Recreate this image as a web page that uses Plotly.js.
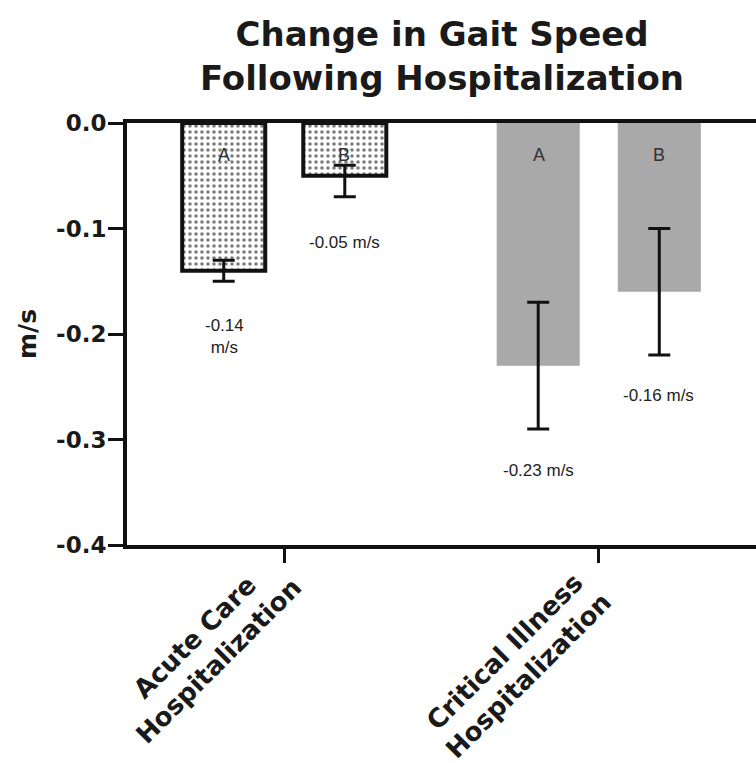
<!DOCTYPE html>
<html>
<head>
<meta charset="utf-8">
<script src="https://cdn.plot.ly/plotly-3.0.1.min.js"></script>
<style>html,body{margin:0;padding:0;background:#fff;}#chart{width:756px;height:763px;}</style>
</head>
<body>
<div id="chart"></div>
<script>
// ---- data ----
const categories = ["Acute Care<br>Hospitalization", "Critical Illness<br>Hospitalization"];
const groupNames = ["A", "B"];
const valuesA = [-0.14, -0.23];
const valuesB = [-0.05, -0.16];
const errPlusA = [0.01, 0.06];
const errMinusA = [0.01, 0.06];
const errPlusB = [0.01, 0.06];
const errMinusB = [0.02, 0.06];
const labelsA = ["-0.14<br>m/s", "-0.23 m/s"];
const labelsB = ["-0.05 m/s", "-0.16 m/s"];
const labelPosA = [-0.202, -0.329];
const labelPosB = [-0.113, -0.258];
const yTicks = [0, -0.1, -0.2, -0.3, -0.4];
const yTickText = ["0.0", "-0.1", "-0.2", "-0.3", "-0.4"];
const chartTitle = "Change in Gait Speed<br>Following Hospitalization";

// ---- styles ----
const bold = "DejaVu Sans, Liberation Sans, Arial, sans-serif";
const plain = "Liberation Sans, Arial, sans-serif";
const tickLabelShiftX = [26, 21];
const tickLabelShiftY = [0, -15];
const barMarker = {
  color: ["#ffffff", "#a9a9a9"],
  line: {color: "#111111", width: [4, 0]},
  pattern: {
    fillmode: "overlay",
    shape: [".", ""],
    fgopacity: 0.7,
    size: [6, 6],
    solidity: [0.28, 0.28]
  }
};
const errStyle = {color: "#111111", thickness: 3, width: 11};

const traces = [
  {type: "bar", name: groupNames[0], x: categories, y: valuesA, marker: barMarker,
   error_y: Object.assign({type: "data", symmetric: false, array: errPlusA, arrayminus: errMinusA}, errStyle),
   hoverinfo: "skip"},
  {type: "bar", name: groupNames[1], x: categories, y: valuesB, marker: barMarker,
   error_y: Object.assign({type: "data", symmetric: false, array: errPlusB, arrayminus: errMinusB}, errStyle),
   hoverinfo: "skip"}
];

const shift = 60;
const annotations = [{
  xref: "paper", yref: "paper", x: 0.500, y: 1.159, xanchor: "center", yanchor: "middle",
  text: chartTitle, showarrow: false,
  font: {family: bold, size: 34, color: "#1a1a1a", weight: "bold"}
}];
categories.forEach((c, i) => {
  // category tick label (rotated, centred lines)
  annotations.push({x: c, xref: "x", y: 0, yref: "paper", xanchor: "right", yanchor: "top",
    xshift: tickLabelShiftX[i], yshift: tickLabelShiftY[i], textangle: -45, align: "center",
    text: c, showarrow: false,
    font: {family: bold, size: 26, color: "#1a1a1a", weight: "bold"}});
  annotations.push({x: c, y: -0.03, xshift: -shift, text: groupNames[0], showarrow: false,
    font: {family: plain, size: 18, color: "#333"}});
  annotations.push({x: c, y: -0.03, xshift: shift, text: groupNames[1], showarrow: false,
    font: {family: plain, size: 18, color: "#333"}});
  annotations.push({x: c, y: labelPosA[i], xshift: -shift, text: labelsA[i], showarrow: false,
    font: {family: plain, size: 17, color: "#222"}});
  annotations.push({x: c, y: labelPosB[i], xshift: shift, text: labelsB[i], showarrow: false,
    font: {family: plain, size: 17, color: "#222"}});
});

const layout = {
  width: 756, height: 763,
  margin: {l: 127, r: 0, t: 123, b: 218},
  paper_bgcolor: "#ffffff", plot_bgcolor: "#ffffff",
  showlegend: false,
  barmode: "group", bargap: 0.23, bargroupgap: 0.314,
  xaxis: {type: "category", range: [-0.5, 1.5],
    showline: true, linecolor: "#111", linewidth: 4, mirror: true,
    ticks: "outside", ticklen: 14, tickwidth: 3, tickcolor: "#111",
    showticklabels: false, showgrid: false, zeroline: false},
  yaxis: {range: [-0.4, 0], tickvals: yTicks, ticktext: yTickText,
    showline: true, linecolor: "#111", linewidth: 4,
    ticks: "outside", ticklen: 15, tickwidth: 3, tickcolor: "#111",
    showgrid: false, zeroline: false, ticklabelstandoff: -3,
    tickfont: {family: bold, size: 23, color: "#1a1a1a", weight: "bold"},
    title: {text: "m/s", standoff: 13, font: {family: bold, size: 25, color: "#1a1a1a", weight: "bold"}}},
  annotations: annotations
};

Plotly.newPlot("chart", traces, layout, {displayModeBar: false, staticPlot: true});
</script>
</body>
</html>
